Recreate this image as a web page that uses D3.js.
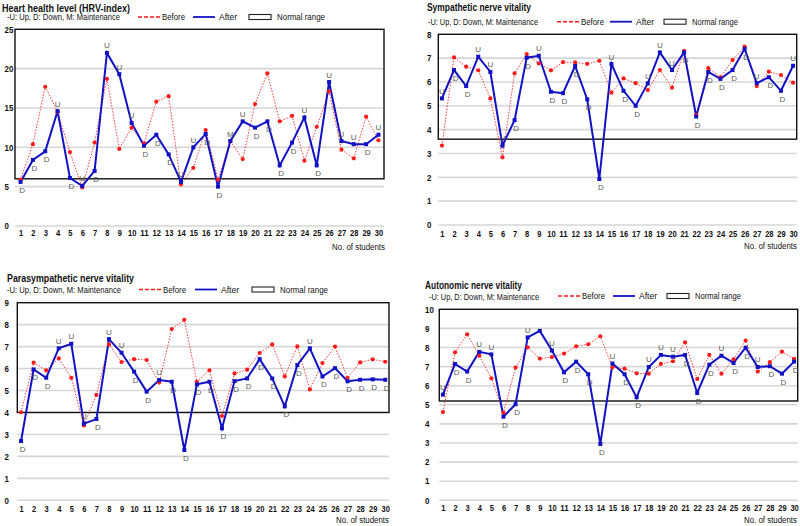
<!DOCTYPE html>
<html><head><meta charset="utf-8">
<script src="https://cdn.jsdelivr.net/npm/d3@7/dist/d3.min.js"></script>
<style>body{margin:0;background:#fff}svg{display:block}text{font-family:"Liberation Sans",Arial,sans-serif;fill:#111}</style>
</head><body>
<svg id="c" width="800" height="526"></svg>
<script>
const students = d3.range(1, 31);

const heartBefore = [5.9,10.4,17.7,14.5,9.4,4.9,10.6,18.7,9.8,12.5,10.5,15.8,16.5,5.3,7.4,12.2,5.9,10.8,8.5,15.5,19.4,13.3,14.0,8.3,12.6,17.1,9.7,8.6,13.9,10.9];
const heartAfter  = [5.6,8.4,9.5,14.6,6.1,5.1,7.0,22.0,19.3,13.1,10.2,11.6,9.1,5.6,10.0,11.7,5.0,10.8,13.3,12.5,13.3,7.7,10.6,13.8,7.7,18.3,10.8,10.4,10.4,11.6];
const heartChange = ["D","D","D","U","D","U","D","U","U","U","D","D","D","U","U","D","D","M","U","D","D","D","D","U","D","U","U","U","D","U"];

const sympBefore = [3.33,7.03,6.64,6.49,5.31,2.84,6.36,7.17,6.78,6.49,6.83,6.82,6.76,6.89,5.55,6.15,5.95,5.66,6.50,5.76,7.31,4.62,6.58,6.19,6.92,7.48,5.83,6.43,6.29,5.97];
const sympAfter  = [5.31,6.50,5.83,7.06,6.42,3.33,4.40,7.02,7.10,5.59,5.53,6.67,5.27,1.93,6.75,5.63,5.00,5.94,7.24,6.50,7.24,4.55,6.42,6.13,6.50,7.39,5.95,6.20,5.63,6.68];
const sympChange = ["U","D","D","U","U","U","D","D","U","D","D","D","D","D","U","D","D","U","U","U","D","D","D","D","D","D","U","D","D","U"];

const paraBefore = [4.01,6.27,5.92,6.46,5.58,3.41,4.80,7.10,6.30,6.43,6.39,5.36,7.80,8.22,5.40,5.92,3.84,5.78,5.95,6.71,7.10,5.64,7.01,5.05,6.25,7.00,5.58,6.28,6.42,6.31];
const paraAfter  = [2.70,5.96,5.58,6.92,7.13,3.49,3.70,7.34,6.72,5.86,4.95,5.48,5.40,2.29,5.28,5.40,3.28,5.43,5.55,6.43,5.55,4.28,6.16,6.92,5.64,6.02,5.42,5.49,5.51,5.49];
const paraChange = ["D","D","D","U","U","U","D","U","U","D","D","U","D","D","D","D","D","D","D","D","D","D","D","U","D","D","D","D","D","D"];

const autoBefore = [4.62,7.75,8.69,7.57,6.39,4.59,6.95,8.01,7.42,7.50,7.68,8.06,8.17,8.59,6.96,6.89,6.65,6.63,7.14,7.28,8.27,6.35,7.61,6.63,7.38,8.36,6.74,7.23,7.78,7.40];
const autoAfter  = [5.53,7.14,6.74,7.77,7.64,4.38,5.03,8.53,8.87,7.84,6.70,7.26,6.60,2.95,7.16,6.60,5.39,6.98,7.61,7.52,7.61,5.62,7.10,7.57,7.19,7.99,6.98,7.02,6.63,7.26];
const autoChange = ["U","D","D","U","U","D","D","U","","U","D","D","D","D","U","D","D","U","U","U","D","D","D","U","D","D","U","D","D","D"];

const titles = ["Heart health level (HRV-index)","Sympathetic nerve vitality","Parasympathetic nerve vitality","Autonomic nerve vitality"];
const yMaxes = [25, 8, 9, 10];
const yStepsArr = [5, 1, 1, 1];
const normalLows = [6, 3.6, 4, 5.2];
const subtitle = "-U: Up, D: Down, M: Maintenance";
const legendLabels = ["Before", "After", "Normal range"];
const xAxisTitle = "No. of students";

const RED = "#ff1a1a", BLUE = "#1212c4";

const layouts = [
  {fl:15, fr:384, y0:226, yt:29.3, pad:0.45, tx:2, ty:11.5, tw:128, sx:7, sy:20, sw:113, ly:17, bx:138, ax:193, nx:249, bw:23, aw:18, nw:48, ylx:4.5, xly:235.5, xtr:385, xty:249.5, xtw:53},
  {fl:438.3, fr:796.7, y0:225, yt:34.3, pad:0.3, tx:427, ty:11, tw:104, sx:428, sy:24.5, sw:110, ly:21.7, bx:557, ax:610, nx:664, bw:23, aw:18, nw:46, ylx:427, xly:236.5, xtr:797, xty:248.5, xtw:53},
  {fl:17.3, fr:389, y0:500.3, yt:302.7, pad:0.3, tx:7, ty:281.5, tw:127, sx:7, sy:292.5, sw:114, ly:289.5, bx:139, ax:195, nx:252, bw:23, aw:18, nw:48, ylx:4.5, xly:511.5, xtr:389, xty:523.3, xtw:53},
  {fl:439.3, fr:797.7, y0:500.3, yt:309.3, pad:0.3, tx:425, ty:289, tw:97, sx:429, sy:299.5, sw:110, ly:296, bx:558, ax:613, nx:667, bw:23, aw:18, nw:46, ylx:425, xly:511, xtr:797, xty:523.3, xtw:53}
];

const series = [
  {before:heartBefore, after:heartAfter, change:heartChange},
  {before:sympBefore, after:sympAfter, change:sympChange},
  {before:paraBefore, after:paraAfter, change:paraChange},
  {before:autoBefore, after:autoAfter, change:autoChange}
];

const svg = d3.select("#c");

series.forEach((s, i) => {
  const L = layouts[i];
  const g = svg.append("g");
  const x = d3.scalePoint().domain(students).range([L.fl, L.fr]).padding(L.pad);
  const y = d3.scaleLinear().domain([0, yMaxes[i]]).range([L.y0, L.yt]);
  const ticks = d3.range(0, yMaxes[i] + 0.001, yStepsArr[i]);

  g.selectAll(".grid").data(ticks.filter(t => t < yMaxes[i])).join("line")
    .attr("x1", L.fl).attr("x2", L.fr)
    .attr("y1", d => y(d)).attr("y2", d => y(d))
    .attr("stroke", "#d6d6d6").attr("stroke-width", 1.6);

  g.append("rect")
    .attr("x", L.fl).attr("y", y(yMaxes[i]))
    .attr("width", L.fr - L.fl).attr("height", y(normalLows[i]) - y(yMaxes[i]))
    .attr("fill", "none").attr("stroke", "#111").attr("stroke-width", 1.4);

  const ya = g.append("g").call(d3.axisLeft(y).tickValues(ticks).tickSize(0).tickFormat(d3.format("d")));
  ya.select(".domain").remove();
  ya.selectAll("text").attr("x", L.ylx).attr("text-anchor", "start")
    .style("font-size", "8.5px").style("font-weight", "bold").attr("fill", "#222")
    .attr("textLength", d => String(d).length * 4.4).attr("lengthAdjust", "spacingAndGlyphs");

  const xa = g.append("g").attr("transform", `translate(0,${L.xly})`)
    .call(d3.axisBottom(x).tickSize(0));
  xa.select(".domain").remove();
  xa.selectAll("text").attr("y", 0).attr("dy", null)
    .style("font-size", "8.5px").style("font-weight", "bold").attr("fill", "#222")
    .attr("textLength", d => String(d).length * 4.2).attr("lengthAdjust", "spacingAndGlyphs");

  const line = (arr) => d3.line().x((d, k) => x(students[k])).y(d => y(d))(arr);
  g.append("path").attr("d", line(s.before)).attr("fill", "none")
    .attr("stroke", RED).attr("stroke-width", 1).attr("stroke-dasharray", "1.5,1.5").attr("opacity", 0.85);
  g.append("path").attr("d", line(s.after)).attr("fill", "none")
    .attr("stroke", BLUE).attr("stroke-width", 2);

  g.selectAll(".bd").data(s.before).join("circle")
    .attr("cx", (d, k) => x(students[k])).attr("cy", d => y(d)).attr("r", 2.1).attr("fill", RED);
  g.selectAll(".ad").data(s.after).join("rect")
    .attr("x", (d, k) => x(students[k]) - 2).attr("y", d => y(d) - 2)
    .attr("width", 4).attr("height", 4).attr("fill", BLUE);

  g.selectAll(".lbl").data(s.after).join("text")
    .attr("x", (d, k) => x(students[k]) + (s.change[k] === "D" ? 1.5 : 0))
    .attr("y", (d, k) => s.change[k] === "D" ? y(d) + 11 : y(d) - 4.5)
    .attr("text-anchor", "middle")
    .style("font-size", "8px").style("fill", "#5b5b55")
    .text((d, k) => s.change[k]);

  g.append("text").attr("x", L.tx).attr("y", L.ty).text(titles[i])
    .style("font-size", "11px").style("font-weight", "bold")
    .attr("textLength", L.tw).attr("lengthAdjust", "spacingAndGlyphs");
  g.append("text").attr("x", L.sx).attr("y", L.sy).text(subtitle)
    .style("font-size", "8.5px")
    .attr("textLength", L.sw).attr("lengthAdjust", "spacingAndGlyphs");

  g.append("line").attr("x1", L.bx).attr("x2", L.bx + 22).attr("y1", L.ly).attr("y2", L.ly)
    .attr("stroke", RED).attr("stroke-width", 1.5).attr("stroke-dasharray", "4,2");
  g.append("text").attr("x", L.bx + 24).attr("y", L.ly + 3).text(legendLabels[0])
    .style("font-size", "8.5px").attr("textLength", L.bw).attr("lengthAdjust", "spacingAndGlyphs");
  g.append("line").attr("x1", L.ax).attr("x2", L.ax + 22).attr("y1", L.ly).attr("y2", L.ly)
    .attr("stroke", BLUE).attr("stroke-width", 1.8);
  g.append("text").attr("x", L.ax + 26).attr("y", L.ly + 3).text(legendLabels[1])
    .style("font-size", "8.5px").attr("textLength", L.aw).attr("lengthAdjust", "spacingAndGlyphs");
  g.append("rect").attr("x", L.nx).attr("y", L.ly - 2.5).attr("width", 22).attr("height", 5)
    .attr("fill", "#fff").attr("stroke", "#222").attr("stroke-width", 1.1);
  g.append("text").attr("x", L.nx + 28).attr("y", L.ly + 3).text(legendLabels[2])
    .style("font-size", "8.5px").attr("textLength", L.nw).attr("lengthAdjust", "spacingAndGlyphs");

  g.append("text").attr("x", L.xtr).attr("y", L.xty).attr("text-anchor", "end").text(xAxisTitle)
    .style("font-size", "8.5px").attr("textLength", L.xtw).attr("lengthAdjust", "spacingAndGlyphs");
});
</script>
</body></html>
